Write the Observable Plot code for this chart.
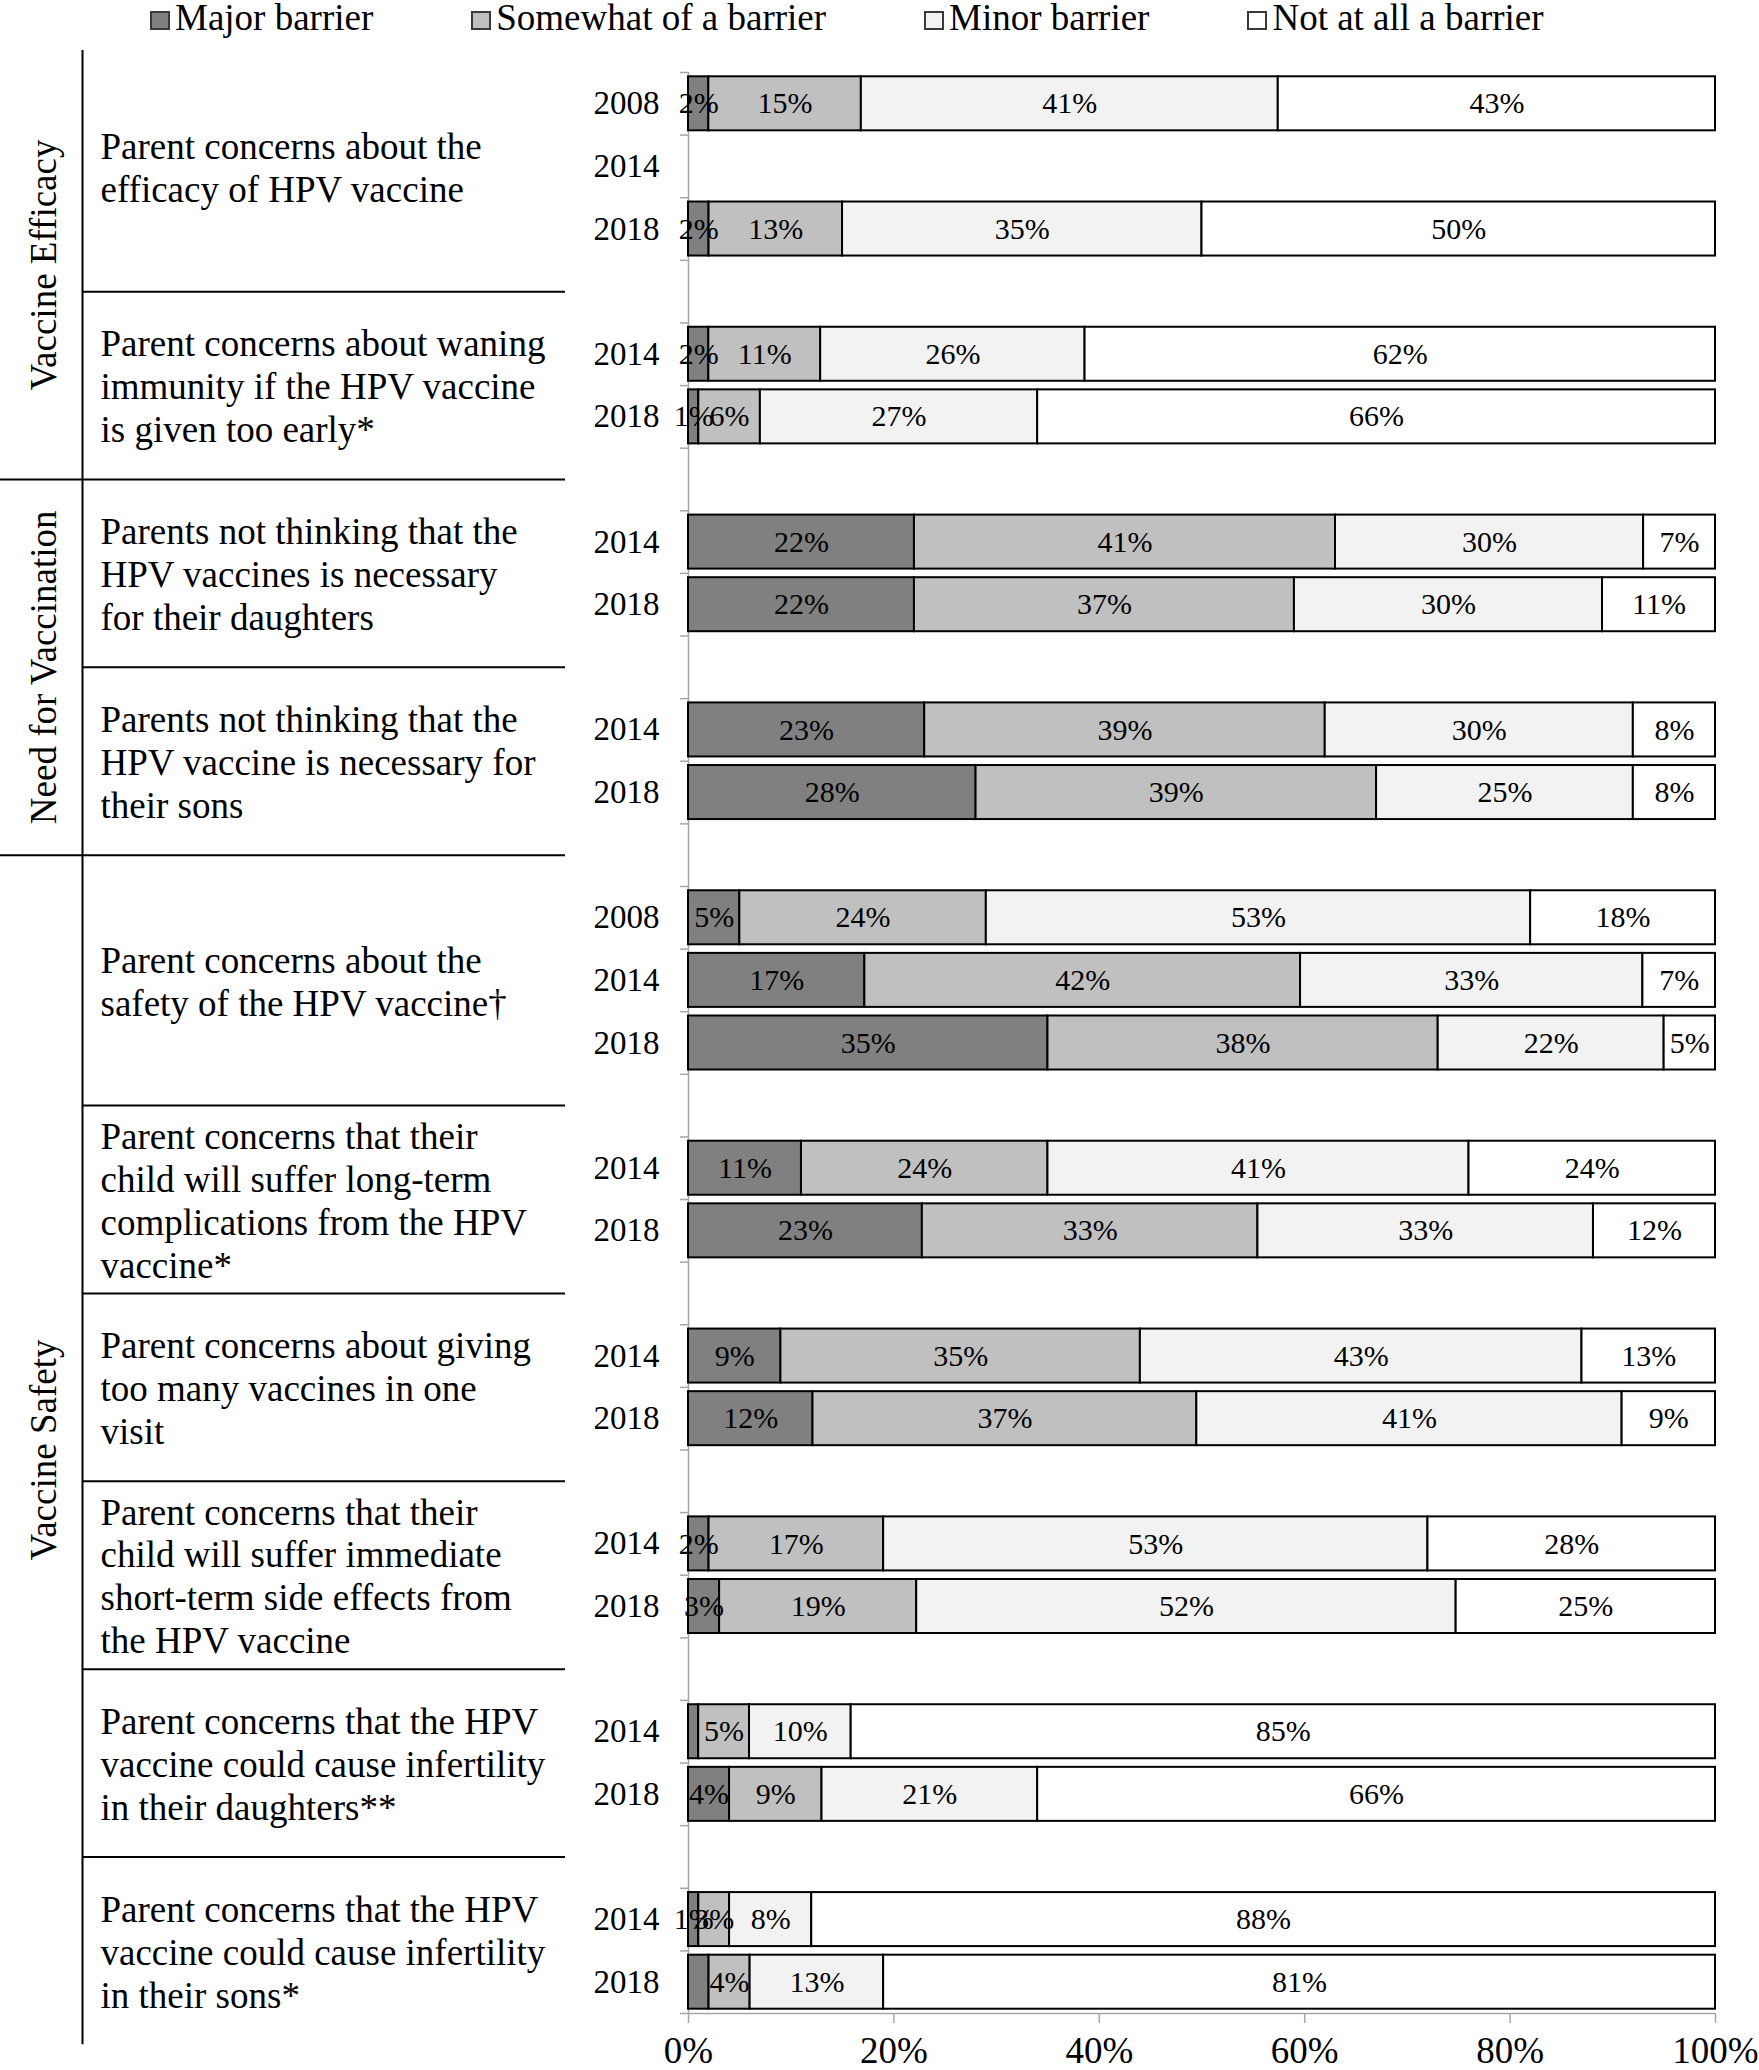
<!DOCTYPE html>
<html>
<head>
<meta charset="utf-8">
<script src="https://cdn.jsdelivr.net/npm/d3@7"></script>
<script src="https://cdn.jsdelivr.net/npm/@observablehq/plot@0.6"></script>
<style>
  body { margin: 0; background: #fff; font-family: "Liberation Serif", "Times New Roman", serif; }
  #legend { height: 40px; display: flex; align-items: flex-start; padding-left: 150px; gap: 98px; overflow: visible; }
  .lg-item { display: flex; align-items: flex-start; font-size: 37px; line-height: 36px; color: #000; white-space: nowrap; }
  .lg-sw { box-sizing: border-box; width: 20px; height: 19px; margin-top: 11px; margin-right: 5px; border: 2px solid #3a3a3a; }
  #chart { display: flex; }
</style>
</head>
<body>
<div id="legend"></div>
<div id="chart"></div>
<script>
// ---------- DATA ----------
const groups = ["Vaccine Efficacy", "Need for Vaccination", "Vaccine Safety"];

const itemLabels = [
  ["Parent concerns about the", "efficacy of HPV vaccine"],
  ["Parent concerns about waning", "immunity if the HPV vaccine", "is given too early*"],
  ["Parents not thinking that the", "HPV vaccines is necessary", "for their daughters"],
  ["Parents not thinking that the", "HPV vaccine is necessary for", "their sons"],
  ["Parent concerns about the", "safety of the HPV vaccine\u2020"],
  ["Parent concerns that their", "child will suffer long-term", "complications from the HPV", "vaccine*"],
  ["Parent concerns about giving", "too many vaccines in one", "visit"],
  ["Parent concerns that their", "child will suffer immediate", "short-term side effects from", "the HPV vaccine"],
  ["Parent concerns that the HPV", "vaccine could cause infertility", "in their daughters**"],
  ["Parent concerns that the HPV", "vaccine could cause infertility", "in their sons*"]
];
const itemGroup = [0, 0, 1, 1, 2, 2, 2, 2, 2, 2];

// one entry per bar row
const rowItem = [0, 0, 0, 1, 1, 2, 2, 3, 3, 4, 4, 4, 5, 5, 6, 6, 7, 7, 8, 8, 9, 9];
const rowYear = ["2008", "2014", "2018", "2014", "2018", "2014", "2018", "2014", "2018",
                 "2008", "2014", "2018", "2014", "2018", "2014", "2018", "2014", "2018",
                 "2014", "2018", "2014", "2018"];

const seriesNames = ["Major barrier", "Somewhat of a barrier", "Minor barrier", "Not at all a barrier"];
const seriesColors = ["#808080", "#c0c0c0", "#f2f2f2", "#ffffff"];

const major    = [2, null, 2,  2, 1,  22, 22,  23, 28,  5, 17, 35,  11, 23,  9, 12,  2, 3,  1, 4,  1, 2];
const somewhat = [15, null, 13, 11, 6, 41, 37, 39, 39, 24, 42, 38, 24, 33, 35, 37, 17, 19, 5, 9, 3, 4];
const minor    = [41, null, 35, 26, 27, 30, 30, 30, 25, 53, 33, 22, 41, 33, 43, 41, 53, 52, 10, 21, 8, 13];
const notAtAll = [43, null, 50, 62, 66, 7, 11, 8, 8, 18, 7, 5, 24, 12, 13, 9, 28, 25, 85, 66, 88, 81];

// labels not printed in the original (row index : series)
const hiddenLabels = ["18:Major barrier", "21:Major barrier"];

const xTicks = [0, 0.2, 0.4, 0.6, 0.8, 1];

// ---------- LAYOUT (styles) ----------
const W = 1759, H = 2030, splitX = 580;
const mTop = 32, mBottom = 57;
const axisGray = "#a6a6a6";
const tableX = 82, tableRight = 565, textX = 100, groupX = 44;
const tableTopExt = 0.35, tableBottomExt = 0.5;   // table frame overhang, in row units

// ---------- DERIVED ----------
let s = 0;
const rowSlot = [];
rowItem.forEach((it, i) => {
  if (i > 0 && it !== rowItem[i - 1]) s++; // blank gap row between items
  rowSlot.push(s);
  s++;
});
const nSlots = s;
const yDomain = [-0.5, nSlots - 0.5];
const boundaries = d3.range(nSlots + 1).map(k => k - 0.5);

const rows = rowItem.map((it, i) => ({row: i, item: it, year: rowYear[i], slot: rowSlot[i]}));
const series = [major, somewhat, minor, notAtAll];
const long = [];
rows.forEach((r, i) => {
  const vals = series.map(a => a[i]);
  if (vals.some(v => v == null)) return;
  vals.forEach((v, k) => long.push({
    ...r, series: seriesNames[k], value: v,
    hide: hiddenLabels.includes(`${i}:${seriesNames[k]}`)
  }));
});

const itemsData = itemLabels.map((lines, i) => {
  const sl = rows.filter(r => r.item === i).map(r => r.slot);
  return {label: lines.join("\n"), mid: d3.mean(sl), first: d3.min(sl), group: itemGroup[i]};
});
const separators = itemsData.slice(1).map((d, i) => ({
  slot: d.first - 1,
  group: d.group !== itemsData[i].group
}));
const tableTop = yDomain[0] - tableTopExt, tableBottom = yDomain[1] + tableBottomExt;
const groupBounds = [tableTop, ...separators.filter(d => d.group).map(d => d.slot), tableBottom];
const groupData = groups.map((g, i) => ({name: g, mid: (groupBounds[i] + groupBounds[i + 1]) / 2}));

// ---------- LEGEND ----------
const legend = d3.select("#legend");
seriesNames.forEach((n, i) => {
  const it = legend.append("div").attr("class", "lg-item");
  it.append("span").attr("class", "lg-sw").style("background", seriesColors[i]);
  it.append("span").text(n);
});

// ---------- PLOTS ----------
const fontStyle = {fontFamily: "'Liberation Serif', 'Times New Roman', serif", fontSize: "36px", background: "white", color: "black", overflow: "visible"};

const left = Plot.plot({
  width: splitX, height: H,
  marginLeft: 0, marginRight: 0, marginTop: mTop, marginBottom: mBottom,
  style: fontStyle,
  x: {type: "identity", axis: null},
  y: {domain: yDomain, reverse: true, axis: null},
  marks: [
    Plot.ruleX([tableX], {y1: tableTop, y2: tableBottom, stroke: "black", strokeWidth: 2}),
    Plot.ruleY(separators, {y: "slot", x1: d => d.group ? 0 : tableX, x2: tableRight, stroke: "black", strokeWidth: 2}),
    Plot.text(itemsData, {x: textX, y: "mid", text: "label", textAnchor: "start", lineHeight: 1.16, fontSize: 37, fill: "black"}),
    Plot.text(groupData, {x: groupX, y: "mid", text: "name", rotate: -90, fontSize: 37, fill: "black"})
  ]
});

const right = Plot.plot({
  width: W - splitX, height: H,
  marginLeft: 688 - splitX, marginRight: 44, marginTop: mTop, marginBottom: mBottom,
  style: fontStyle,
  x: {domain: [0, 1], axis: null, label: null},
  y: {domain: yDomain, reverse: true, axis: null, label: null},
  color: {domain: seriesNames, range: seriesColors},
  marks: [
    Plot.ruleX([0], {stroke: axisGray, strokeWidth: 1.5}),
    Plot.ruleY([yDomain[1]], {stroke: axisGray, strokeWidth: 1.5}),
    Plot.axisY({ticks: boundaries, tickSize: 8, tickFormat: () => "", label: null, stroke: axisGray, strokeWidth: 1.5}),
    Plot.axisX({ticks: xTicks, tickFormat: d3.format(".0%"), tickSize: 10, tickPadding: 13, label: null,
                stroke: axisGray, strokeWidth: 1.5, fill: "black", fontSize: 37}),
    Plot.rectX(long, {
      x: "value", y1: d => d.slot - 0.5, y2: d => d.slot + 0.5, z: "series",
      fill: "series", offset: "normalize",
      stroke: "black", strokeWidth: 2, insetTop: 4.3, insetBottom: 4.3
    }),
    Plot.text(long, Plot.stackX({
      x: "value", y: "slot", z: "series", offset: "normalize",
      text: d => d.hide ? null : d.value + "%", fontSize: 30, fill: "black"
    })),
    Plot.text(rows, {y: "slot", text: "year", frameAnchor: "left", dx: -29, textAnchor: "end", fontSize: 33, fill: "black"})
  ]
});

const chart = document.getElementById("chart");
chart.appendChild(left);
chart.appendChild(right);
</script>
</body>
</html>
